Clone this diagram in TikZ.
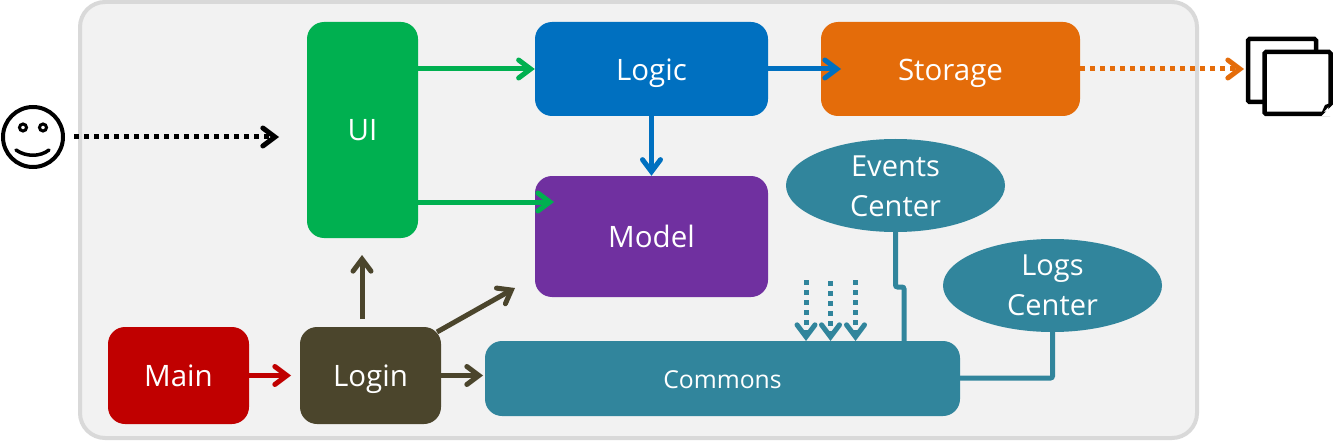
\documentclass[tikz,border=0pt]{standalone}
\usepackage{fontspec}
\setmainfont{Open Sans}
\usetikzlibrary{arrows.meta,shapes.geometric}
\definecolor{cgreen}{HTML}{00B050}
\definecolor{cblue}{HTML}{0070C0}
\definecolor{corange}{HTML}{E46C0A}
\definecolor{cpurple}{HTML}{7030A0}
\definecolor{cred}{HTML}{C00000}
\definecolor{cbrown}{HTML}{4B452C}
\definecolor{cteal}{HTML}{31859C}
\tikzset{
  x=1pt,y=-1pt,
  box/.style={rounded corners=17pt,inner sep=0pt,text=white,font=\fontsize{29.5}{34}\selectfont,text height=22pt,text depth=0pt},
  oval/.style={ellipse,inner sep=0pt,fill=cteal,minimum width=219pt,minimum height=93pt},
  ovaltext/.style={inner sep=0pt,text=white,font=\fontsize{29}{40}\selectfont,align=center},
  conn/.style={line width=5pt,-{Straight Barb[length=12pt,width=18pt,line width=5pt,line cap=round,line join=miter]}},
  dots/.style={conn,dash pattern=on 5pt off 5pt},
  plain/.style={line width=5pt,rounded corners=2pt},
}
\begin{document}
\begin{tikzpicture}
\useasboundingbox (0,0) rectangle (1333,441);
\node[draw=black!15,line width=4pt,fill=black!5,rounded corners=25pt,minimum width=1117pt,minimum height=436pt,inner sep=0pt] (frame) at (638.5,220) {};
% boxes
\node[box,fill=cgreen,minimum width=111pt,minimum height=216pt] (ui) at (362.5,130) {UI};
\node[box,fill=cblue,minimum width=233pt,minimum height=94pt,text height=23pt] (logic) at (651.5,69) {Logic};
\node[box,fill=corange,minimum width=259pt,minimum height=94pt,text height=23pt] (storage) at (950.5,69) {Storage};
\node[box,fill=cpurple,minimum width=233pt,minimum height=121pt] (model) at (651.5,236.5) {Model};
\node[box,fill=cred,minimum width=141pt,minimum height=97pt] (main) at (178.5,375.5) {Main};
\node[box,fill=cbrown,minimum width=141pt,minimum height=97pt] (login) at (370.5,375.5) {Login};
\node[box,fill=cteal,minimum width=475pt,minimum height=75pt,font=\fontsize{24.7}{28}\selectfont,text height=20pt] (commons) at (722.5,378.5) {Commons};
\node[oval,label={[ovaltext,yshift=-1pt,name=eventstext]center:{Events\\Center}}] (events) at (895.5,185.5) {};
\node[oval,label={[ovaltext,name=logstext]center:{Logs\\Center}}] (logs) at (1052.5,285.5) {};
% smiley
\node[circle,draw=black,line width=4pt,minimum size=60pt,inner sep=0pt] (smiley) at (33,137) {};
\draw[line width=3pt] (23,127.5) circle (3.5pt) (43,127.5) circle (3.5pt);
\draw[line width=3.5pt,line cap=round] (16,150) .. controls (26,157) and (40,157) .. (49,150);
% documents
\draw[line width=4.5pt,fill=white,rounded corners=1.5pt] (1248,39) rectangle (1316,102);
\node[draw=black,line width=4.5pt,fill=white,minimum width=66pt,minimum height=62pt,inner sep=0pt,rounded corners=1.5pt] (docs) at (1297.5,83) {};
\fill[white] (1321,116.5) -- (1334.5,116.5) -- (1334.5,103) -- cycle;
\fill[black,line join=round] (1320,116) -- (1325,105) -- (1333,102) -- cycle;
\coordinate (docsin) at (1244,69);
% connectors
\coordinate (uiM) at (ui.east |- 0,202);
\coordinate (modelin) at (554,202);
\coordinate (storagein) at (841,69);
\coordinate (uiin) at (279,137);
\coordinate (smileyout) at (74,137);
\draw[conn,cgreen] (ui.east |- logic.west) -- (logic.west);
\draw[conn,cgreen] (uiM) -- (modelin);
\draw[conn,cblue] (logic.east) -- (storagein);
\draw[conn,cblue] (logic.south) -- (model.north);
\coordinate (loginin) at (291,375.5);
\draw[conn,cred] (main.east) -- (loginin);
\coordinate (loginU) at (362,319);
\coordinate (uiU) at (362,255);
\draw[conn,cbrown] (loginU) -- (uiU);
\coordinate (loginM) at (437,332);
\coordinate (modelM) at (515,288);
\draw[conn,cbrown] (loginM) -- (modelM);
\coordinate (commonsin) at (483,375.5);
\draw[conn,cbrown] (login.east) -- (commonsin);
\draw[dots,black] (smileyout) -- (uiin);
\draw[dots,corange] (storage.east) -- (docsin);
\coordinate (eventsbend1) at (895.5,287);
\coordinate (eventsbend2) at (904,287);
\coordinate (eventsend) at (904,341);
\draw[plain,cteal] (events.south) -- (eventsbend1) -- (eventsbend2) -- (eventsend);
\coordinate (logsbend) at (1052.5,378);
\coordinate (logsend) at (960,378);
\draw[plain,cteal] (logs.south) -- (logsbend) -- (logsend);
\coordinate (c1) at (806,341); \coordinate (c2) at (830.5,341); \coordinate (c3) at (855.5,341);
\coordinate (d1) at (806,280); \coordinate (d2) at (830.5,281); \coordinate (d3) at (855.5,280);
\draw[dots,cteal] (d1) -- (c1);
\draw[dots,cteal] (d2) -- (c2);
\draw[dots,cteal] (d3) -- (c3);
\end{tikzpicture}
\end{document}
